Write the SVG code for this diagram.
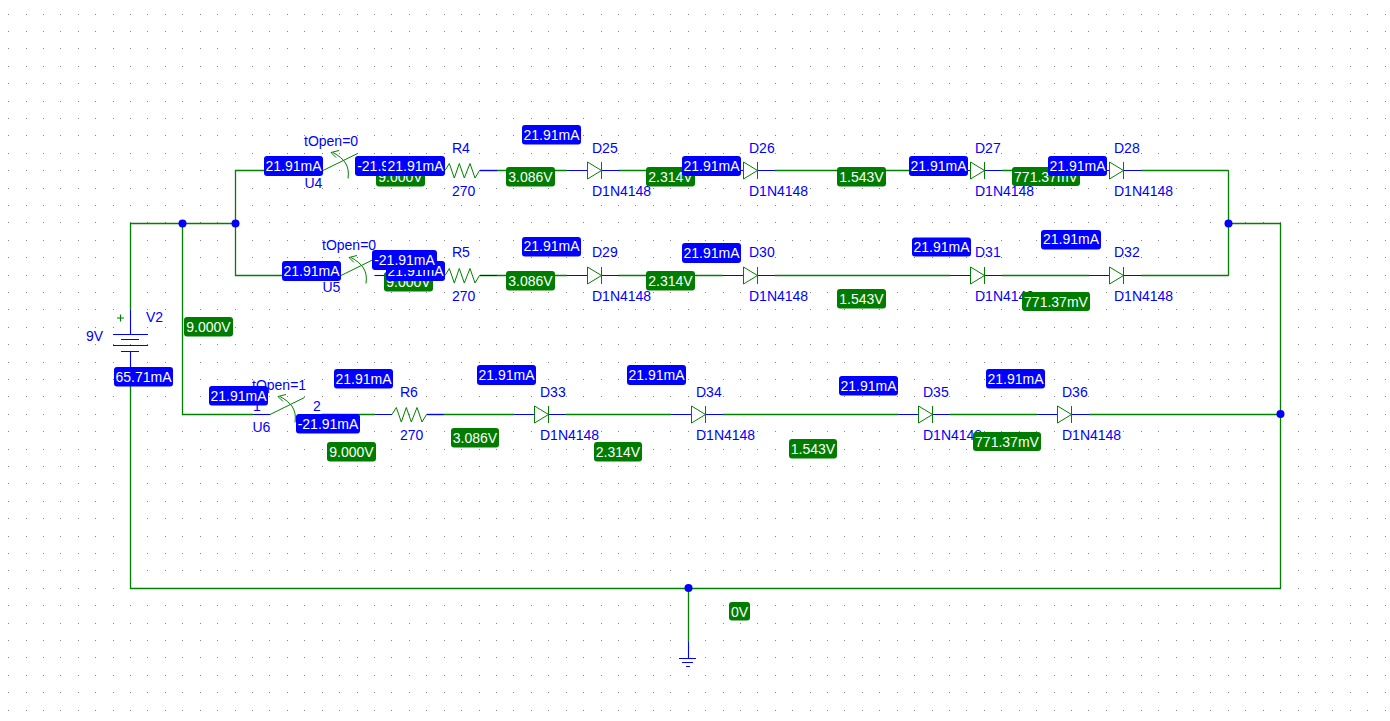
<svg xmlns="http://www.w3.org/2000/svg" xmlns:xlink="http://www.w3.org/1999/xlink" width="1390" height="721" viewBox="0 0 1390 721">
<style>
text{font-family:"Liberation Sans",Arial,sans-serif;font-size:14px}
.t{fill:#0000ff}
.p{fill:#ffffff;text-anchor:middle}
.b{fill:#0000ff}
.g{fill:#007d00}
.w{fill:none;stroke:#008000;stroke-width:1.3}
.s{fill:none;stroke:#0000ff;stroke-width:1.1}
.c{fill:none;stroke:#008000;stroke-width:1}
.j{fill:#0000ff}
#grid use{fill:#808080}
</style>
<defs>
<path id="col" shape-rendering="crispEdges" d="M0 14h1v1h-1zM0 31h1v1h-1zM0 48h1v1h-1zM0 66h1v1h-1zM0 83h1v1h-1zM0 101h1v1h-1zM0 118h1v1h-1zM0 135h1v1h-1zM0 153h1v1h-1zM0 170h1v1h-1zM0 188h1v1h-1zM0 205h1v1h-1zM0 222h1v1h-1zM0 240h1v1h-1zM0 257h1v1h-1zM0 275h1v1h-1zM0 292h1v1h-1zM0 309h1v1h-1zM0 327h1v1h-1zM0 344h1v1h-1zM0 362h1v1h-1zM0 379h1v1h-1zM0 396h1v1h-1zM0 414h1v1h-1zM0 431h1v1h-1zM0 449h1v1h-1zM0 466h1v1h-1zM0 483h1v1h-1zM0 501h1v1h-1zM0 518h1v1h-1zM0 536h1v1h-1zM0 553h1v1h-1zM0 570h1v1h-1zM0 588h1v1h-1zM0 605h1v1h-1zM0 623h1v1h-1zM0 640h1v1h-1zM0 657h1v1h-1zM0 675h1v1h-1zM0 692h1v1h-1zM0 710h1v1h-1z"/>
<g id="diode"><path class="s" d="M-20 0H0M14.5 0H32"/><path class="c" d="M0.5 -8.5V8.5L14.5 0ZM14.5 -8.5V8.5"/></g>
<g id="res"><path class="s" d="M-17 0H0M35 0H52"/><path class="c" d="M0 0L4.3 -7L9.3 7.5L14.3 -7L19.3 7.5L25 -7L30 7.5L34.5 0"/></g>
<g id="sw"><path class="s" d="M-17 0H0"/><path class="c" d="M0 0L34.5 -17M25 8C27 -5 21 -12 10 -18M8 -18L16 -20M8 -18L13 -13"/></g>
</defs>
<g id="grid">
<use xlink:href="#col" x="8"/><use xlink:href="#col" x="26"/><use xlink:href="#col" x="43"/><use xlink:href="#col" x="60"/><use xlink:href="#col" x="78"/><use xlink:href="#col" x="95"/><use xlink:href="#col" x="113"/><use xlink:href="#col" x="130"/><use xlink:href="#col" x="147"/><use xlink:href="#col" x="165"/><use xlink:href="#col" x="182"/><use xlink:href="#col" x="200"/><use xlink:href="#col" x="217"/><use xlink:href="#col" x="235"/><use xlink:href="#col" x="252"/><use xlink:href="#col" x="269"/><use xlink:href="#col" x="287"/><use xlink:href="#col" x="304"/><use xlink:href="#col" x="322"/><use xlink:href="#col" x="339"/><use xlink:href="#col" x="357"/><use xlink:href="#col" x="374"/><use xlink:href="#col" x="391"/><use xlink:href="#col" x="409"/><use xlink:href="#col" x="426"/><use xlink:href="#col" x="444"/><use xlink:href="#col" x="461"/><use xlink:href="#col" x="479"/><use xlink:href="#col" x="496"/><use xlink:href="#col" x="513"/><use xlink:href="#col" x="531"/><use xlink:href="#col" x="548"/><use xlink:href="#col" x="566"/><use xlink:href="#col" x="583"/><use xlink:href="#col" x="601"/><use xlink:href="#col" x="618"/><use xlink:href="#col" x="635"/><use xlink:href="#col" x="653"/><use xlink:href="#col" x="670"/><use xlink:href="#col" x="688"/><use xlink:href="#col" x="705"/><use xlink:href="#col" x="723"/><use xlink:href="#col" x="740"/><use xlink:href="#col" x="757"/><use xlink:href="#col" x="775"/><use xlink:href="#col" x="792"/><use xlink:href="#col" x="810"/><use xlink:href="#col" x="827"/><use xlink:href="#col" x="844"/><use xlink:href="#col" x="862"/><use xlink:href="#col" x="879"/><use xlink:href="#col" x="897"/><use xlink:href="#col" x="914"/><use xlink:href="#col" x="932"/><use xlink:href="#col" x="949"/><use xlink:href="#col" x="966"/><use xlink:href="#col" x="984"/><use xlink:href="#col" x="1001"/><use xlink:href="#col" x="1019"/><use xlink:href="#col" x="1036"/><use xlink:href="#col" x="1054"/><use xlink:href="#col" x="1071"/><use xlink:href="#col" x="1088"/><use xlink:href="#col" x="1106"/><use xlink:href="#col" x="1123"/><use xlink:href="#col" x="1141"/><use xlink:href="#col" x="1158"/><use xlink:href="#col" x="1176"/><use xlink:href="#col" x="1193"/><use xlink:href="#col" x="1210"/><use xlink:href="#col" x="1228"/><use xlink:href="#col" x="1245"/><use xlink:href="#col" x="1263"/><use xlink:href="#col" x="1280"/><use xlink:href="#col" x="1298"/><use xlink:href="#col" x="1315"/><use xlink:href="#col" x="1332"/><use xlink:href="#col" x="1350"/><use xlink:href="#col" x="1367"/><use xlink:href="#col" x="1385"/>
</g>
<g id="connectors">
<path class="w" d="M130.5 310V223.5H235.5M235.5 275.5V170.5H306M235.5 223.5V275.5H324M182.5 223.5V414.5H253M130.5 386V588.5H1280.5V223.5H1228.5M1228.5 170.5V275.5M688.5 588.5V642"/>
<path class="w" d="M480 170.5H567M618.5 170.5H723M775 170.5H950M1002 170.5H1089M1141 170.5H1228.5"/>
<path class="w" d="M393 275.5H428M480 275.5H567M618.5 275.5H723M775 275.5H950M1002 275.5H1089M1141 275.5H1228.5"/>
<path class="w" d="M322 414.5H375M427 414.5H514M566 414.5H671M723 414.5H898M950 414.5H1037M1089 414.5H1280.5"/>
<path class="s" d="M375 275.5H393"/>
</g>
<g id="J1"><circle class="j" cx="182.5" cy="223.5" r="4"/></g>
<g id="J2"><circle class="j" cx="235.5" cy="223.5" r="4"/></g>
<g id="J3"><circle class="j" cx="1228.5" cy="223.5" r="4"/></g>
<g id="J4"><circle class="j" cx="1280.5" cy="414" r="4"/></g>
<g id="J5"><circle class="j" cx="688.5" cy="588" r="4"/></g>
<g id="GND"><path class="s" d="M688.5 642V658.5M679 658.5H696M682 662.5H693M686 666.5H690"/></g>
<g id="V2">
<path class="s" d="M130.5 310V334.5M130.5 352V367M113 334.5H148M121 339.5H139M113 345.5H148M121 351.5H139"/>
<path d="M117 318H124M120.5 314.5V321.5" fill="none" stroke="#008000" stroke-width="1.2"/>
<text class="t" x="146" y="322">V2</text><text class="t" x="86" y="341">9V</text>
</g>
<g id="U4"><use xlink:href="#sw" x="323" y="170.5"/><path class="s" d="M375 170.5H392"/><text class="t" x="304" y="146">tOpen=0</text><text class="t" x="304.5" y="188">U4</text></g>
<g id="U5"><use xlink:href="#sw" x="341" y="275.5"/><text class="t" x="322" y="250">tOpen=0</text><text class="t" x="322.5" y="292">U5</text></g>
<g id="U6"><use xlink:href="#sw" x="270" y="414.5"/><path class="s" d="M322 414.5H339"/><text class="t" x="252" y="390">tOpen=1</text><text class="t" x="253" y="411">1</text><text class="t" x="313" y="411">2</text><text class="t" x="252.5" y="432">U6</text></g>
<g id="R4"><use xlink:href="#res" x="445" y="170.5"/><text class="t" x="452" y="153">R4</text><text class="t" x="452" y="196">270</text></g>
<g id="R5"><use xlink:href="#res" x="445" y="275.5"/><text class="t" x="452" y="257">R5</text><text class="t" x="452" y="301">270</text></g>
<g id="R6"><use xlink:href="#res" x="392" y="414.5"/><text class="t" x="400" y="397">R6</text><text class="t" x="400" y="440">270</text></g>
<g id="D25"><use xlink:href="#diode" x="587" y="170.5"/><text class="t" x="592" y="153">D25</text><text class="t" x="592" y="196">D1N4148</text></g>
<g id="D26"><use xlink:href="#diode" x="743" y="170.5"/><text class="t" x="749" y="153">D26</text><text class="t" x="749" y="196">D1N4148</text></g>
<g id="D27"><use xlink:href="#diode" x="970" y="170.5"/><text class="t" x="975" y="153">D27</text><text class="t" x="975" y="196">D1N4148</text></g>
<g id="D28"><use xlink:href="#diode" x="1109" y="170.5"/><text class="t" x="1114" y="153">D28</text><text class="t" x="1114" y="196">D1N4148</text></g>
<g id="D29"><use xlink:href="#diode" x="587" y="275.5"/><text class="t" x="592" y="257">D29</text><text class="t" x="592" y="301">D1N4148</text></g>
<g id="D30"><use xlink:href="#diode" x="743" y="275.5"/><text class="t" x="749" y="257">D30</text><text class="t" x="749" y="301">D1N4148</text></g>
<g id="D31"><use xlink:href="#diode" x="970" y="275.5"/><text class="t" x="975" y="257">D31</text><text class="t" x="975" y="301">D1N4148</text></g>
<g id="D32"><use xlink:href="#diode" x="1109" y="275.5"/><text class="t" x="1114" y="257">D32</text><text class="t" x="1114" y="301">D1N4148</text></g>
<g id="D33"><use xlink:href="#diode" x="534" y="414.5"/><text class="t" x="540" y="397">D33</text><text class="t" x="540" y="440">D1N4148</text></g>
<g id="D34"><use xlink:href="#diode" x="691" y="414.5"/><text class="t" x="696" y="397">D34</text><text class="t" x="696" y="440">D1N4148</text></g>
<g id="D35"><use xlink:href="#diode" x="918" y="414.5"/><text class="t" x="923" y="397">D35</text><text class="t" x="923" y="440">D1N4148</text></g>
<g id="D36"><use xlink:href="#diode" x="1057" y="414.5"/><text class="t" x="1062" y="397">D36</text><text class="t" x="1062" y="440">D1N4148</text></g>
<g id="voltages">
<rect class="g" x="376" y="167" width="49" height="19.5" rx="3"/><text class="p" x="400.5" y="182">9.000V</text>
<rect class="g" x="506" y="167" width="49" height="19.5" rx="3"/><text class="p" x="530.5" y="182">3.086V</text>
<rect class="g" x="646" y="167" width="49" height="19.5" rx="3"/><text class="p" x="670.5" y="182">2.314V</text>
<rect class="g" x="837" y="167" width="49" height="19.5" rx="3"/><text class="p" x="861.5" y="182">1.543V</text>
<rect class="g" x="1012" y="167" width="68" height="19" rx="3"/><text class="p" x="1046" y="182">771.37mV</text>
<rect class="g" x="384" y="272" width="49" height="19.5" rx="3"/><text class="p" x="408.5" y="287">9.000V</text>
<rect class="g" x="506" y="271" width="49" height="19.5" rx="3"/><text class="p" x="530.5" y="286">3.086V</text>
<rect class="g" x="646" y="271" width="49" height="19.5" rx="3"/><text class="p" x="670.5" y="286">2.314V</text>
<rect class="g" x="837" y="289" width="49" height="19.5" rx="3"/><text class="p" x="861.5" y="304">1.543V</text>
<rect class="g" x="1022" y="292" width="68" height="19" rx="3"/><text class="p" x="1056" y="307">771.37mV</text>
<rect class="g" x="184" y="317" width="49" height="19.5" rx="3"/><text class="p" x="208.5" y="332">9.000V</text>
<rect class="g" x="327" y="442" width="49" height="19.5" rx="3"/><text class="p" x="351.5" y="457">9.000V</text>
<rect class="g" x="451" y="428" width="48" height="19.5" rx="3"/><text class="p" x="475" y="443">3.086V</text>
<rect class="g" x="594" y="442" width="48" height="19.5" rx="3"/><text class="p" x="618" y="457">2.314V</text>
<rect class="g" x="789" y="439" width="48" height="19.5" rx="3"/><text class="p" x="813" y="454">1.543V</text>
<rect class="g" x="973" y="432" width="68" height="19" rx="3"/><text class="p" x="1007" y="447">771.37mV</text>
<rect class="g" x="729" y="602" width="21" height="18.5" rx="3"/><text class="p" x="739.5" y="617">0V</text>
</g>
<g id="currents">
<rect class="b" x="264" y="156" width="59" height="20" rx="3"/><text class="p" x="293.5" y="170.5">21.91mA</text>
<rect class="b" x="355" y="156" width="65" height="20" rx="3"/><text class="p" x="387.5" y="170.5">-21.91mA</text>
<rect class="b" x="386" y="156" width="59" height="20" rx="3"/><text class="p" x="415.5" y="170.5">21.91mA</text>
<rect class="b" x="522" y="125" width="59" height="19.5" rx="3"/><text class="p" x="551.5" y="139.5">21.91mA</text>
<rect class="b" x="682" y="156" width="59" height="20" rx="3"/><text class="p" x="711.5" y="170.5">21.91mA</text>
<rect class="b" x="909" y="156" width="59" height="20" rx="3"/><text class="p" x="938.5" y="170.5">21.91mA</text>
<rect class="b" x="1048" y="156" width="59" height="20" rx="3"/><text class="p" x="1077.5" y="170.5">21.91mA</text>
<rect class="b" x="282" y="261" width="59" height="20" rx="3"/><text class="p" x="311.5" y="275.5">21.91mA</text>
<rect class="b" x="386" y="261" width="59" height="20" rx="3"/><text class="p" x="415.5" y="275.5">21.91mA</text>
<rect class="b" x="372" y="250" width="65" height="20" rx="3"/><text class="p" x="404.5" y="264.5">-21.91mA</text>
<rect class="b" x="522" y="237" width="59" height="19.5" rx="3"/><text class="p" x="551.5" y="251">21.91mA</text>
<rect class="b" x="682" y="243" width="59" height="20" rx="3"/><text class="p" x="711.5" y="257.5">21.91mA</text>
<rect class="b" x="912" y="237.5" width="59" height="19" rx="3"/><text class="p" x="941.5" y="251.5">21.91mA</text>
<rect class="b" x="1041" y="230" width="60" height="19.5" rx="3"/><text class="p" x="1071" y="244">21.91mA</text>
<rect class="b" x="114" y="367" width="59" height="19.5" rx="3"/><text class="p" x="143.5" y="382">65.71mA</text>
<rect class="b" x="209" y="386" width="59" height="19.5" rx="3"/><text class="p" x="238.5" y="400.5">21.91mA</text>
<rect class="b" x="334" y="369" width="59" height="19.5" rx="3"/><text class="p" x="363.5" y="383.5">21.91mA</text>
<rect class="b" x="296" y="414" width="64" height="19.5" rx="3"/><text class="p" x="328" y="428.5">-21.91mA</text>
<rect class="b" x="477" y="365" width="59" height="20" rx="3"/><text class="p" x="506.5" y="379.5">21.91mA</text>
<rect class="b" x="627" y="365" width="59" height="20" rx="3"/><text class="p" x="656.5" y="379.5">21.91mA</text>
<rect class="b" x="839" y="376" width="59" height="19.5" rx="3"/><text class="p" x="868.5" y="390.5">21.91mA</text>
<rect class="b" x="986" y="369" width="59" height="19.5" rx="3"/><text class="p" x="1015.5" y="383.5">21.91mA</text>
</g>
</svg>
